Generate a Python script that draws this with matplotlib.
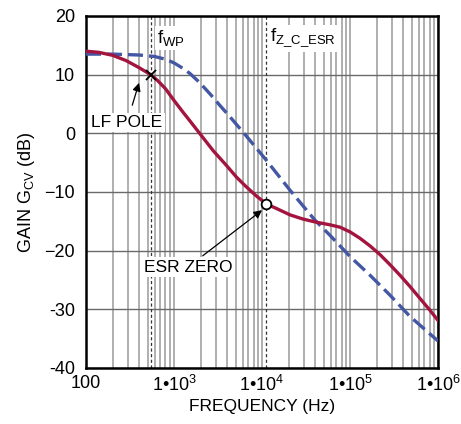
import numpy as np
import matplotlib
matplotlib.use('Agg')
import matplotlib.pyplot as plt
from matplotlib.ticker import FixedLocator, LogLocator, NullFormatter

plt.rcParams['font.family'] = ['Liberation Sans', 'DejaVu Sans']
plt.rcParams['mathtext.fontset'] = 'custom'
plt.rcParams['mathtext.rm'] = 'Liberation Sans'
plt.rcParams['mathtext.it'] = 'Liberation Sans'

# data
red_freq = [100, 140, 200, 285, 400, 543, 650, 800, 1000, 1250, 1500, 2000, 2800, 3900,
            5150, 6500, 8500, 11100, 15000, 20800, 29000, 39900, 59300, 76900, 100000,
            130000, 169000, 220000, 285000, 370000, 479000, 620000, 813000, 1000000]
red_gain = [14.0, 13.8, 13.3, 12.4, 11.2, 10.0, 9.0, 7.6, 5.6, 3.7, 2.2, -0.2, -3.0, -5.4,
            -7.5, -9.0, -10.6, -12.0, -12.9, -13.9, -14.6, -15.1, -15.6, -16.0, -16.8,
            -17.9, -19.2, -20.7, -22.4, -24.2, -26.1, -28.1, -30.2, -31.9]

blue_freq = [100, 200, 400, 600, 811, 1000, 1255, 1515, 1940, 2570, 3300, 4330, 6410,
             10800, 20800, 39900, 59300, 100000, 169000, 285000, 479000, 1000000]
blue_gain = [13.5, 13.5, 13.35, 13.1, 12.6, 12.0, 11.1, 10.2, 8.7, 6.7, 4.8, 2.8, -0.2,
             -4.3, -9.7, -14.8, -17.4, -21.0, -24.2, -27.6, -31.2, -35.4]

f_wp = 543
f_zesr = 11100
lf_pole_gain = 10.0
esr_zero_gain = -12.0

xticks = [100, 1e3, 1e4, 1e5, 1e6]
xlabels = ['100', r'1•10$^3$', r'1•10$^4$', r'1•10$^5$', r'1•10$^6$']
yticks = [20, 10, 0, -10, -20, -30, -40]
ylabels = ['20', '10', '0', '\u221210', '\u221220', '-30', '-40']

fig = plt.figure(figsize=(4.61, 4.24), dpi=100)
ax = fig.add_axes([0.1866, 0.1321, 0.7636, 0.8302])
ax.set_xscale('log')
ax.set_xlim(100, 1e6)
ax.set_ylim(-40, 20)

# grid
ax.xaxis.set_major_locator(FixedLocator(xticks))
ax.xaxis.set_minor_locator(LogLocator(base=10, subs=np.arange(2, 10)))
ax.xaxis.set_minor_formatter(NullFormatter())
ax.set_yticks(yticks)
ax.grid(which='both', axis='x', color='#a9a9a9', lw=1.3)
ax.grid(which='major', axis='y', color='#6a6a6a', lw=1.0)
ax.set_axisbelow(True)

ax.set_xticklabels(xlabels)
ax.set_yticklabels(ylabels)
ax.tick_params(which='both', length=0, labelsize=13)
ax.tick_params(axis='x', pad=5)
ax.tick_params(axis='y', pad=8)

for s in ax.spines.values():
    s.set_linewidth(1.8)

# marker lines
ax.axvline(f_wp, color='#333333', lw=0.9, ls=(0, (2.5, 2)))
ax.axvline(f_zesr, color='#333333', lw=0.9, ls=(0, (2.5, 2)))

ax.plot(blue_freq, blue_gain, color='#4457a5', lw=2.4, dashes=(4.5, 1.8), zorder=3)
ax.plot(red_freq, red_gain, color='#a3153f', lw=2.4, zorder=4)

ax.plot(f_wp, lf_pole_gain, marker='x', color='black', ms=7, mew=1.3, zorder=5)
ax.plot(f_zesr, esr_zero_gain, marker='o', mfc='white', mec='black', ms=7, mew=1.3, zorder=5)

bbox = dict(facecolor='white', edgecolor='none', pad=1.5)
ax.text(640, 16.2, r'f$_{\mathregular{WP}}$', fontsize=13.5, va='center', ha='left', bbox=bbox)
ax.text(12300, 16.2, r'f$_{\mathregular{Z\_C\_ESR}}$', fontsize=13.5, va='center', ha='left', bbox=bbox)

ax.annotate('LF POLE', xy=(400, 8.6), xytext=(292, 1.8), fontsize=12.5, ha='center', va='center',
            bbox=bbox, arrowprops=dict(arrowstyle='-|>', color='black', lw=0.9,
                                       mutation_scale=12, shrinkA=6, shrinkB=0))
ax.annotate('ESR ZERO', xy=(10000, -13.1), xytext=(1443, -22.8), fontsize=12.5, ha='center', va='center',
            bbox=bbox, arrowprops=dict(arrowstyle='-|>', color='black', lw=0.9,
                                       mutation_scale=12, shrinkA=2, shrinkB=0))

ax.set_xlabel('FREQUENCY (Hz)', fontsize=12.5, labelpad=3)
ax.set_ylabel(r'GAIN G$_{\mathregular{CV}}$ (dB)', fontsize=13, labelpad=5)

fig.savefig('out.png', dpi=100)
